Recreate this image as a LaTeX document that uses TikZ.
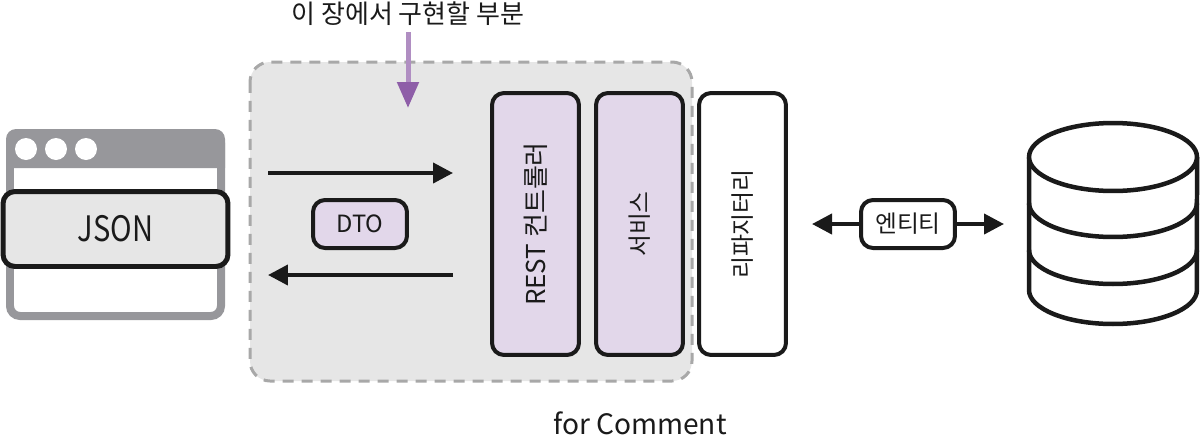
\documentclass[tikz,border=0pt]{standalone}
\usepackage{fontspec}
\setmainfont{Noto Sans CJK KR}
\usetikzlibrary{arrows.meta}
\definecolor{paneGray}{HTML}{E6E6E6}
\definecolor{dashGray}{HTML}{A8A8A8}
\definecolor{frameGray}{HTML}{97979B}
\definecolor{layerPurple}{HTML}{E2D7EA}
\definecolor{notePurple}{HTML}{8E5EA8}
\definecolor{inkBlack}{HTML}{1A1A1A}
\begin{document}
\begin{tikzpicture}[
    x=0.02cm, y=-0.02cm,
    >={Stealth[inset=0pt, length=0.4cm, width=0.4cm]},
    % Define the looks locally
    flowLine/.style={draw=inkBlack, line width=0.08cm},
    layerBox/.style={draw=inkBlack, line width=0.08cm, rounded corners=0.24cm, minimum width=1.74cm, minimum height=5.24cm, inner sep=0pt, text=inkBlack},
    tagBox/.style={draw=inkBlack, line width=0.08cm, rounded corners=0.24cm, minimum width=1.88cm, minimum height=0.96cm, inner sep=0pt, text=inkBlack},
    plainText/.style={text=inkBlack, inner sep=0pt}
]
    \useasboundingbox (0,0) rectangle (1201,437);

    % --- TOP NOTE ---
    \node[plainText, font=\fontsize{14.8}{16}\selectfont] (noteText) at (408,14) {이 장에서 구현할 부분};
    \coordinate (noteStart) at (408,32);
    \coordinate (noteEnd) at (408,108);

    % --- DASHED PANE ---
    \draw[fill=paneGray, draw=dashGray, line width=0.06cm, dash pattern=on 0.22cm off 0.16cm, rounded corners=0.4cm] (250,62) rectangle (692,381);
    \draw[->, draw=notePurple!70, line width=0.1cm, >={Stealth[inset=0pt, length=0.52cm, width=0.42cm, color=notePurple]}] (noteStart) -- (noteEnd);

    % --- BROWSER WINDOW ---
    \draw[fill=white, draw=frameGray, line width=0.16cm, rounded corners=0.2cm] (10,133) rectangle (221,316);
    \fill[frameGray] (6,168) [rounded corners=0.2cm] -- (6,129) -- (225,129) [sharp corners] -- (225,168) -- cycle;
    \foreach \cx in {26,56,86} {
        \fill[white] (\cx,149) circle (0.22cm);
    }
    \node[draw=inkBlack, fill=paneGray, line width=0.1cm, rounded corners=0.24cm, minimum width=4.5cm, minimum height=1.5cm, inner sep=0pt, font=\fontsize{19}{21}\selectfont, text=inkBlack] (jsonBox) at (115.5,229) {\scalebox{0.87}[1.05]{JSON}};

    % --- REQUEST AND RESPONSE ---
    \node[tagBox, fill=layerPurple, font=\fontsize{13.5}{14}\selectfont] (dtoBox) at (360,224) {DTO};
    \coordinate (reqStart) at (268,173);
    \coordinate (reqEnd) at (453,173);
    \coordinate (resStart) at (453,275);
    \coordinate (resEnd) at (268,275);
    \draw[->, flowLine] (reqStart) -- (reqEnd);
    \draw[->, flowLine] (resStart) -- (resEnd);

    % --- LAYERS ---
    \node[layerBox, fill=layerPurple] (restBox) at (535.5,224) {\rotatebox{90}{\fontsize{14.8}{15}\selectfont REST 컨트롤러}};
    \node[layerBox, fill=layerPurple] (serviceBox) at (639.5,224) {\rotatebox{90}{\fontsize{13.5}{15}\selectfont 서비스}};
    \node[layerBox, fill=white] (repoBox) at (742.5,224) {\rotatebox{90}{\fontsize{13.6}{15}\selectfont 리파지터리}};

    % --- ENTITY LINK ---
    \node[tagBox, fill=white, font=\fontsize{13.5}{14}\selectfont] (entityBox) at (908,224) {엔티티};
    \coordinate (entityLeft) at (812,224);
    \coordinate (entityRight) at (1004,224);
    \draw[->, flowLine] (entityBox.west) -- (entityLeft);
    \draw[->, flowLine] (entityBox.east) -- (entityRight);

    % --- DATABASE ---
    \draw[fill=white, draw=inkBlack, line width=0.09cm] (1029,157) -- (1029,290) arc[start angle=180, end angle=360, x radius=1.68cm, y radius=0.68cm] -- (1197,157);
    \draw[fill=white, draw=inkBlack, line width=0.09cm] (1113,157) ellipse[x radius=1.68cm, y radius=0.68cm];
    \draw[draw=inkBlack, line width=0.09cm] (1029,203) arc[start angle=180, end angle=360, x radius=1.68cm, y radius=0.68cm];
    \draw[draw=inkBlack, line width=0.09cm] (1029,250) arc[start angle=180, end angle=360, x radius=1.68cm, y radius=0.68cm];

    % --- CAPTION ---
    \node[plainText, font=\fontsize{16}{18}\selectfont] (captionText) at (640,423) {for Comment};

\end{tikzpicture}
\end{document}
